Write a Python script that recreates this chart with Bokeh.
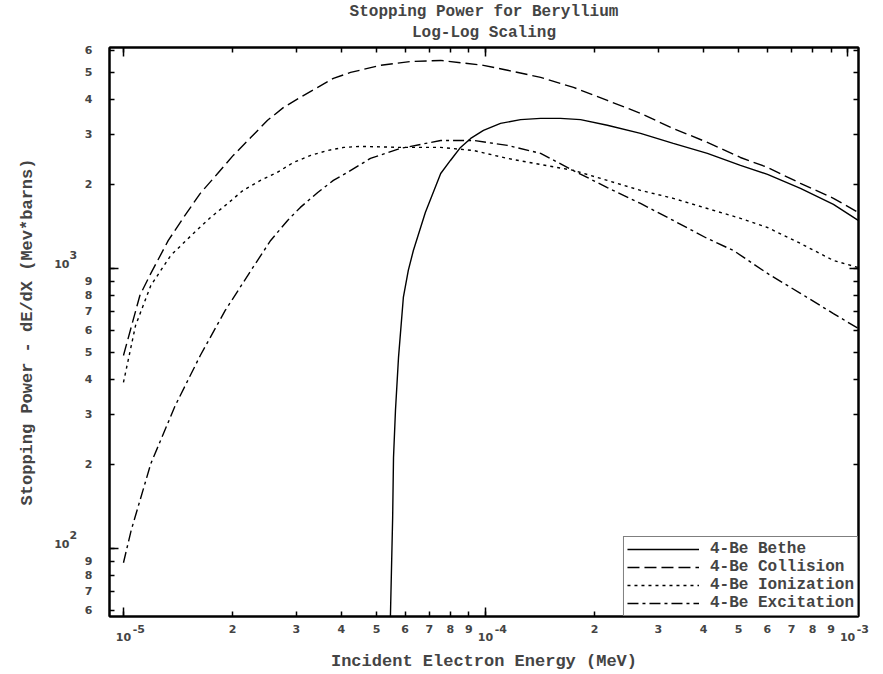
from bokeh.plotting import figure
from bokeh.models import (FixedTicker, CustomJSTickFormatter, LogAxis,
                          Legend, LegendItem)
from bokeh.embed import file_html
from bokeh.resources import INLINE

# ---------------- data (MeV, MeV*barns) ----------------
bethe_energy = [5.44e-5, 5.47e-5, 5.54e-5, 5.57e-5, 5.64e-5, 5.75e-5, 5.93e-5, 6.12e-5,
                6.32e-5, 6.82e-5, 7.52e-5, 8.0e-5, 8.53e-5, 9.1e-5, 9.87e-5, 1.10e-4,
                1.25e-4, 1.42e-4, 1.61e-4, 1.83e-4, 2.17e-4, 2.68e-4, 3.30e-4, 4.10e-4,
                5.06e-4, 6.01e-4, 7.41e-4, 9.14e-4, 1.07e-3]
bethe_power = [45, 62.5, 129, 211, 311, 481, 788, 984,
               1159, 1585, 2183, 2430, 2705, 2913, 3110, 3295,
               3400, 3433, 3433, 3400, 3245, 3035, 2795, 2575,
               2333, 2167, 1931, 1693, 1484]

collision_energy = [1.0e-5, 1.11e-5, 1.19e-5, 1.33e-5, 1.47e-5, 1.63e-5, 1.82e-5, 2.01e-5,
                    2.25e-5, 2.50e-5, 2.77e-5, 3.08e-5, 3.44e-5, 3.80e-5, 4.24e-5, 5.13e-5,
                    6.21e-5, 7.52e-5, 9.87e-5, 1.15e-4, 1.42e-4, 1.75e-4, 2.17e-4, 2.68e-4,
                    3.30e-4, 4.10e-4, 5.06e-4, 6.01e-4, 7.41e-4, 9.14e-4, 1.07e-3]
collision_power = [489, 801, 960, 1259, 1530, 1854, 2183, 2533,
                   2938, 3380, 3760, 4083, 4430, 4770, 5010, 5310,
                   5480, 5530, 5310, 5100, 4810, 4430, 3980, 3580,
                   3160, 2820, 2490, 2295, 2013, 1780, 1585]

ionization_energy = [1.0e-5, 1.08e-5, 1.19e-5, 1.35e-5, 1.56e-5, 1.74e-5, 1.94e-5, 2.14e-5,
                     2.39e-5, 2.66e-5, 2.95e-5, 3.29e-5, 3.66e-5, 4.06e-5, 4.52e-5, 5.82e-5,
                     7.52e-5, 9.27e-5, 1.15e-4, 1.42e-4, 1.75e-4, 2.17e-4, 2.68e-4, 3.30e-4,
                     4.10e-4, 5.06e-4, 6.01e-4, 7.41e-4, 9.14e-4, 1.07e-3]
ionization_power = [392, 626, 869, 1112, 1334, 1521, 1706, 1900,
                    2062, 2203, 2392, 2533, 2637, 2705, 2728, 2705,
                    2705, 2637, 2471, 2350, 2240, 2062, 1900, 1780,
                    1637, 1510, 1400, 1228, 1068, 1008]

excitation_energy = [1.0e-5, 1.05e-5, 1.19e-5, 1.39e-5, 1.63e-5, 1.91e-5, 2.25e-5, 2.55e-5,
                     2.84e-5, 3.08e-5, 3.44e-5, 3.80e-5, 4.16e-5, 4.81e-5, 5.82e-5, 7.52e-5,
                     9.27e-5, 1.15e-4, 1.42e-4, 1.72e-4, 2.17e-4, 2.68e-4, 3.30e-4, 4.10e-4,
                     4.84e-4, 6.01e-4, 7.41e-4, 9.14e-4, 1.07e-3]
excitation_power = [89, 116, 201, 324, 489, 708, 984, 1259,
                    1484, 1652, 1868, 2062, 2203, 2471, 2683, 2864,
                    2864, 2750, 2575, 2260, 1945, 1706, 1484, 1279,
                    1159, 960, 815, 690, 611]

series_labels = ["4-Be Bethe", "4-Be Collision", "4-Be Ionization", "4-Be Excitation"]

# axis ranges, ticks and tick labels
X_RANGE = (0.915e-5, 1.072e-3)
Y_RANGE = (57.2, 6150)
x_decades = [1e-5, 1e-4, 1e-3]
x_decade_exponents = ["-5", "-4", "-3"]
x_ticks = [m * 10.0 ** e for e in (-5, -4) for m in range(1, 10)] + [1e-3]
y_decades = [1e2, 1e3]
y_decade_exponents = ["2", "3"]
y_ticks = [m * 10.0 for m in range(6, 10)] + [m * 100.0 for m in range(1, 10)] + \
          [m * 1000.0 for m in range(1, 7)]

TITLE = "Stopping Power for Beryllium"
SUBTITLE = "Log-Log Scaling"
X_LABEL = "Incident Electron Energy (MeV)"
Y_LABEL = "Stopping Power - dE/dX (Mev*barns)"

MONO = "Liberation Mono"
NBSP = "\u00a0"

# decade labels: exponent on a raised line above "10"
x_decade_labels = [NBSP * 8 + e + "\n10" for e in x_decade_exponents]
y_decade_labels = [e + NBSP * 4 + "\n10" + NBSP * 6 + "\n\n" for e in y_decade_exponents]

# ---------------- figure ----------------
p = figure(width=883, height=674, x_axis_type="log", y_axis_type="log",
           x_range=X_RANGE, y_range=Y_RANGE, output_backend="svg",
           toolbar_location=None, title=TITLE,
           min_border_left=109, min_border_right=25, min_border_top=47,
           min_border_bottom=58)
p.background_fill_color = "white"
p.border_fill_color = "white"
p.outline_line_color = "black"
p.outline_line_width = 2
p.xgrid.visible = False
p.ygrid.visible = False

p.title.align = "center"
p.title.text_font = MONO
p.title.text_font_style = "bold"
p.title.text_font_size = "16px"
p.title.standoff = 0


def tick_formatter(decades, decade_labels):
    return CustomJSTickFormatter(args=dict(vals=decades, labs=decade_labels), code="""
        const lt = Math.log10(tick);
        for (let i = 0; i < vals.length; i++) {
            if (Math.abs(Math.log10(vals[i]) - lt) < 1e-6) return labs[i];
        }
        const e = Math.floor(lt + 1e-9);
        return String(Math.round(tick / Math.pow(10, e)));
    """)


def style_main_axis(ax, ticks, decades, decade_labels):
    ax.ticker = FixedTicker(ticks=ticks, minor_ticks=decades)
    ax.major_tick_in = 5
    ax.major_tick_out = 0
    ax.minor_tick_in = 9
    ax.minor_tick_out = 0
    ax.major_tick_line_width = 1.5
    ax.minor_tick_line_width = 1.5
    ax.axis_line_width = 2
    ax.axis_line_color = "black"
    ax.formatter = tick_formatter(decades, decade_labels)
    ax.major_label_text_font = "DejaVu Sans"
    ax.major_label_text_font_style = "bold"
    ax.major_label_text_font_size = "11px"
    ax.major_label_text_line_height = 0.65
    ax.axis_label_text_font = MONO
    ax.axis_label_text_font_style = "bold"
    ax.axis_label_text_font_size = "17px"


def frame_axis(ticks, decades):
    # top / right axes: ticks only
    ax = LogAxis(ticker=FixedTicker(ticks=decades, minor_ticks=ticks))
    ax.major_tick_in = 9
    ax.major_tick_out = 0
    ax.minor_tick_in = 5
    ax.minor_tick_out = 0
    ax.major_tick_line_width = 1.5
    ax.minor_tick_line_width = 1.5
    ax.axis_line_width = 2
    ax.formatter = CustomJSTickFormatter(code="return '';")
    ax.major_label_text_font_size = "0px"
    ax.major_label_standoff = 0
    return ax


xax = p.xaxis[0]
yax = p.yaxis[0]
style_main_axis(xax, x_ticks, x_decades, x_decade_labels)
style_main_axis(yax, y_ticks, y_decades, y_decade_labels)
xax.axis_label = X_LABEL
yax.axis_label = Y_LABEL
xax.major_label_standoff = 6
xax.axis_label_standoff = 5
yax.major_label_standoff = 17
yax.axis_label_standoff = 14
yax.major_label_orientation = "horizontal"

# top axis carries the second title line as its label
top_ax = frame_axis(x_ticks, x_decades)
top_ax.axis_label = SUBTITLE
top_ax.axis_label_text_font = MONO
top_ax.axis_label_text_font_style = "bold"
top_ax.axis_label_text_font_size = "16px"
top_ax.axis_label_standoff = 6
p.add_layout(top_ax, "above")
p.add_layout(frame_axis(y_ticks, y_decades), "right")

# ---------------- curves ----------------
r_bethe = p.line(bethe_energy, bethe_power, line_color="black", line_width=1.4)
r_coll = p.line(collision_energy, collision_power, line_color="black", line_width=1.4,
                line_dash="12 5")
r_ion = p.line(ionization_energy, ionization_power, line_color="black", line_width=1.4,
               line_dash="3 4")
r_exc = p.line(excitation_energy, excitation_power, line_color="black", line_width=1.4,
               line_dash="11 4 3 4")

legend = Legend(items=[LegendItem(label=lab, renderers=[r]) for lab, r in
                       zip(series_labels, [r_bethe, r_coll, r_ion, r_exc])],
                location="bottom_right")
legend.margin = 0
legend.padding = 3
legend.spacing = 0
legend.glyph_width = 72
legend.glyph_height = 16
legend.label_height = 16
legend.label_standoff = 11
legend.label_text_font = MONO
legend.label_text_font_style = "bold"
legend.label_text_font_size = "16px"
legend.border_line_color = "black"
legend.border_line_width = 1.5
legend.background_fill_color = "white"
legend.background_fill_alpha = 1.0
p.add_layout(legend)

open("out.html", "w").write(file_html(p, INLINE))
